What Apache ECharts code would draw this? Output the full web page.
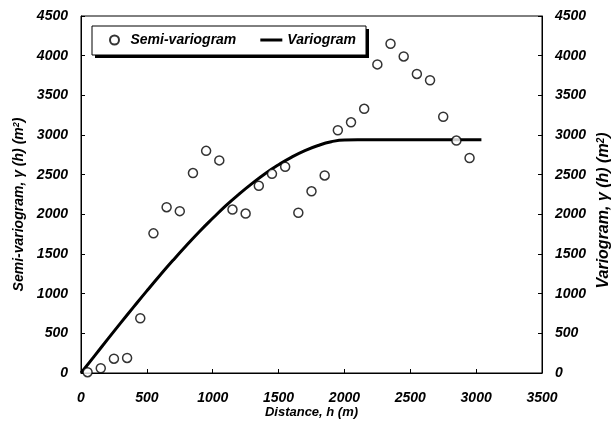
<!DOCTYPE html>
<html>
<head>
<meta charset="utf-8">
<script src="https://cdn.jsdelivr.net/npm/echarts@6/dist/echarts.min.js"></script>
<style>
  html, body { margin: 0; padding: 0; background: #fff; }
  #chart { width: 616px; height: 423px; }
</style>
</head>
<body>
<div id="chart"></div>
<script>
// Semi-variogram experimental points (distance m, gamma m^2)
const lagDistance = [50, 150, 250, 350, 450, 550, 650, 750, 850, 950, 1050, 1150, 1250, 1350, 1450, 1550, 1650, 1750, 1850, 1950, 2050, 2150, 2250, 2350, 2450, 2550, 2650, 2750, 2850, 2950];
const semiVariogram = [10, 60, 180, 190, 690, 1760, 2090, 2040, 2520, 2800, 2680, 2060, 2010, 2360, 2510, 2600, 2020, 2290, 2490, 3060, 3160, 3330, 3890, 4150, 3990, 3770, 3690, 3230, 2930, 2710];

// Fitted variogram model curve
const modelDistance = [0, 100, 200, 300, 400, 500, 600, 700, 800, 900, 1000, 1100, 1200, 1300, 1400, 1500, 1600, 1700, 1800, 1900, 2000, 2100, 2500, 3040];
const modelGamma = [0, 210, 420, 628, 833, 1035, 1232, 1423, 1607, 1784, 1950, 2110, 2255, 2390, 2515, 2625, 2722, 2803, 2868, 2915, 2938, 2940, 2940, 2940];

// Tick labels
const xTicks = [0, 500, 1000, 1500, 2000, 2500, 3000, 3500];
const yTicks = [0, 500, 1000, 1500, 2000, 2500, 3000, 3500, 4000, 4500];

const chart = echarts.init(document.getElementById('chart'));

const fontFamily = '"Liberation Sans", Arial, sans-serif';
const boldItalic = {
    color: '#000',
    fontFamily: fontFamily,
    fontWeight: 'bold',
    fontStyle: 'italic'
};
const tickLabel = Object.assign({ fontSize: 14, formatter: v => String(v) }, boldItalic);

// axis title with a raised "2" for m squared
function titleStyle(size, padding) {
    return Object.assign({
        fontSize: size,
        padding: padding,
        rich: {
            sup: Object.assign({ fontSize: Math.round(size * 0.65), verticalAlign: 'top', padding: [0, 0, 6, 0] }, boldItalic)
        }
    }, boldItalic);
}

function yAxisFor(position, nameText, gap, style) {
    return {
        type: 'value',
        position: position,
        min: yTicks[0],
        max: yTicks[yTicks.length - 1],
        interval: 500,
        name: nameText,
        nameLocation: 'middle',
        nameGap: gap,
        nameMoveOverlap: false,
        nameTextStyle: style,
        axisLine: { show: true, lineStyle: { color: '#000', width: 1 } },
        axisTick: { show: true, inside: true, length: 4, lineStyle: { color: '#000' } },
        axisLabel: Object.assign({ margin: 13 }, tickLabel),
        splitLine: { show: false }
    };
}

const option = {
    backgroundColor: '#fff',
    animation: false,
    grid: {
        left: 81,
        right: 74,
        top: 16,
        bottom: 50,
        outerBoundsMode: 'none',
        containLabel: false,
        show: true,
        borderColor: '#000',
        borderWidth: 1
    },
    // legend frame with its drop shadow
    graphic: [
        { type: 'rect', shape: { x: 95, y: 29, width: 274, height: 29 }, style: { fill: '#000' }, z: 10 },
        { type: 'rect', shape: { x: 92, y: 26, width: 274, height: 29 }, style: { fill: '#fff', stroke: '#000', lineWidth: 1 }, z: 11 }
    ],
    legend: {
        left: 109,
        top: 33,
        padding: 0,
        itemGap: 24,
        itemWidth: 22,
        itemHeight: 9,
        z: 20,
        textStyle: Object.assign({ fontSize: 14 }, boldItalic),
        data: [
            { name: 'Semi-variogram', icon: 'circle' },
            { name: 'Variogram', icon: 'path://M0,0 L22,0 L22,3 L0,3 Z' }
        ]
    },
    xAxis: {
        type: 'value',
        min: xTicks[0],
        max: xTicks[xTicks.length - 1],
        interval: 500,
        name: 'Distance, h (m)',
        nameLocation: 'middle',
        nameGap: 33,
        nameMoveOverlap: false,
        nameTextStyle: Object.assign({ fontSize: 13 }, boldItalic),
        axisLine: { show: true, lineStyle: { color: '#000', width: 1 } },
        axisTick: { show: true, inside: true, length: 4, lineStyle: { color: '#000' } },
        axisLabel: Object.assign({ margin: 18 }, tickLabel),
        splitLine: { show: false }
    },
    yAxis: [
        yAxisFor('left', 'Semi-variogram, γ (h) (m{sup|2})', 54, titleStyle(14, [0, 20, 0, 0])),
        yAxisFor('right', 'Variogram, γ (h) (m{sup|2})', 54, titleStyle(16, [0, 32, 0, 0]))
    ],
    series: [
        {
            name: 'Variogram',
            type: 'line',
            yAxisIndex: 1,
            data: modelDistance.map((d, i) => [d, modelGamma[i]]),
            smooth: true,
            symbol: 'none',
            lineStyle: { color: '#000', width: 3 },
            itemStyle: { color: '#000' },
            z: 2
        },
        {
            name: 'Semi-variogram',
            type: 'scatter',
            yAxisIndex: 0,
            data: lagDistance.map((d, i) => [d, semiVariogram[i]]),
            symbol: 'circle',
            symbolSize: 9,
            itemStyle: { color: '#fff', borderColor: '#000', borderWidth: 1.5 },
            z: 3
        }
    ]
};

chart.setOption(option);
</script>
</body>
</html>
